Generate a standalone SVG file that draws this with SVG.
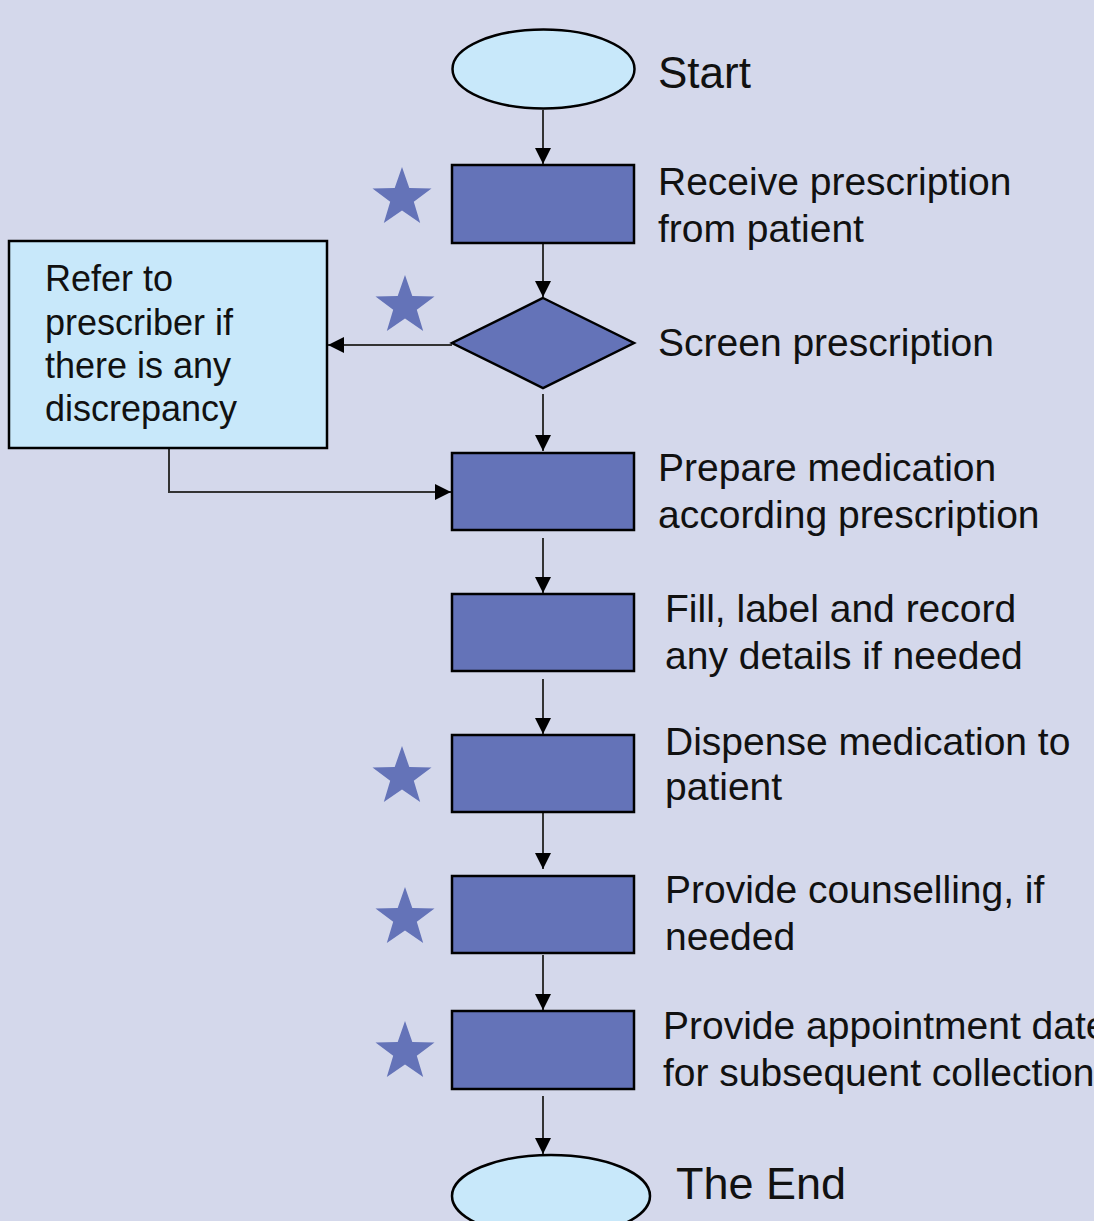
<svg xmlns="http://www.w3.org/2000/svg" width="1094" height="1221" viewBox="0 0 1094 1221">
<defs>
<style>
.bg{fill:#d4d8eb}
.term{fill:#c8e8fa;stroke:#000;stroke-width:2.5}
.proc{fill:#6473b8;stroke:#000;stroke-width:2.5}
.note{fill:#c8e8fa;stroke:#000;stroke-width:2.5}
.star{fill:#6473b8}
.lbl{font-family:"Liberation Sans",Arial,sans-serif;font-size:39px;fill:#111}
.conn{stroke:#333;stroke-width:2;fill:none}
</style>
<marker id="a" viewBox="0 0 16 16" refX="16" refY="8" markerWidth="16" markerHeight="16" markerUnits="userSpaceOnUse" orient="auto">
<path d="M0,0 L16,8 L0,16 Z" fill="#000"/>
</marker>
<path id="starshape" d="M0,-31 L7.3,-10 L29.5,-9.6 L11.8,3.8 L18.2,25.1 L0,12.4 L-18.2,25.1 L-11.8,3.8 L-29.5,-9.6 L-7.3,-10 Z"/>
</defs>
<rect class="bg" x="0" y="0" width="1094" height="1221"/>

<g id="connectors">
<line class="conn" x1="543" y1="110" x2="543" y2="164" marker-end="url(#a)"/>
<line class="conn" x1="543" y1="244" x2="543" y2="297" marker-end="url(#a)"/>
<line class="conn" x1="452" y1="345" x2="328" y2="345" marker-end="url(#a)"/>
<line class="conn" x1="543" y1="394" x2="543" y2="451" marker-end="url(#a)"/>
<polyline class="conn" points="169,449 169,492 451,492" marker-end="url(#a)"/>
<line class="conn" x1="543" y1="538" x2="543" y2="593" marker-end="url(#a)"/>
<line class="conn" x1="543" y1="679" x2="543" y2="734" marker-end="url(#a)"/>
<line class="conn" x1="543" y1="813" x2="543" y2="869" marker-end="url(#a)"/>
<line class="conn" x1="543" y1="955" x2="543" y2="1010" marker-end="url(#a)"/>
<line class="conn" x1="543" y1="1096" x2="543" y2="1154" marker-end="url(#a)"/>
</g>

<g id="start">
<ellipse class="term" cx="543.5" cy="69" rx="91" ry="39.5"/>
<text class="lbl" x="658" y="88" style="font-size:44px">Start</text>
</g>

<g id="receive">
<rect class="proc" x="452" y="165" width="182" height="78"/>
<use href="#starshape" class="star" x="402" y="198"/>
<text class="lbl" x="658" y="195">Receive prescription</text>
<text class="lbl" x="658" y="242">from patient</text>
</g>

<g id="screen">
<polygon class="proc" points="543,298 634,343 543,388 452,343"/>
<use href="#starshape" class="star" x="405" y="306"/>
<text class="lbl" x="658" y="356">Screen prescription</text>
</g>

<g id="refer">
<rect class="note" x="9" y="241" width="318" height="207"/>
<text class="lbl" x="45" y="291" style="font-size:36px">Refer to</text>
<text class="lbl" x="45" y="335" style="font-size:36px">prescriber if</text>
<text class="lbl" x="45" y="378" style="font-size:36px">there is any</text>
<text class="lbl" x="45" y="421" style="font-size:36px">discrepancy</text>
</g>

<g id="prepare">
<rect class="proc" x="452" y="453" width="182" height="77"/>
<text class="lbl" x="658" y="481">Prepare medication</text>
<text class="lbl" x="658" y="528">according prescription</text>
</g>

<g id="fill">
<rect class="proc" x="452" y="594" width="182" height="77"/>
<text class="lbl" x="665" y="622">Fill, label and record</text>
<text class="lbl" x="665" y="669">any details if needed</text>
</g>

<g id="dispense">
<rect class="proc" x="452" y="735" width="182" height="77"/>
<use href="#starshape" class="star" x="402" y="777"/>
<text class="lbl" x="665" y="755">Dispense medication to</text>
<text class="lbl" x="665" y="800">patient</text>
</g>

<g id="counsel">
<rect class="proc" x="452" y="876" width="182" height="77"/>
<use href="#starshape" class="star" x="405" y="918"/>
<text class="lbl" x="665" y="903">Provide counselling, if</text>
<text class="lbl" x="665" y="950">needed</text>
</g>

<g id="appointment">
<rect class="proc" x="452" y="1011" width="182" height="78"/>
<use href="#starshape" class="star" x="405" y="1052"/>
<text class="lbl" x="663" y="1039">Provide appointment date</text>
<text class="lbl" x="663" y="1086">for subsequent collection</text>
</g>

<g id="end">
<ellipse class="term" cx="551" cy="1196" rx="99" ry="41"/>
<text class="lbl" x="676" y="1199" style="font-size:45px">The End</text>
</g>
</svg>
